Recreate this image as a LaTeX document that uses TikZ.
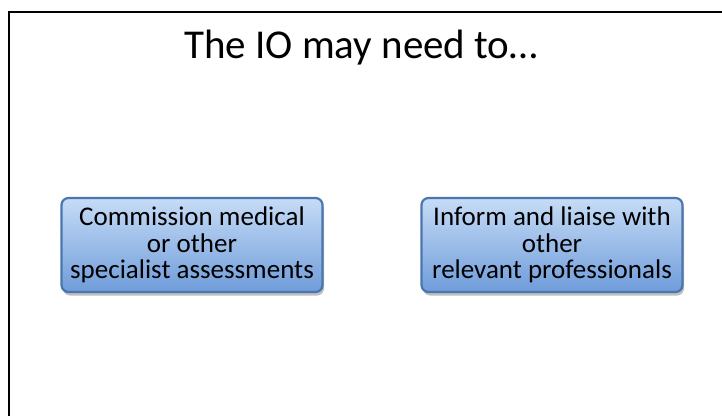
\documentclass[tikz,border=0pt]{standalone}
\usepackage{fontspec}
\setmainfont{Carlito}
\usetikzlibrary{shadows}
\definecolor{boxtop}{HTML}{C6DCF6}
\definecolor{boxbot}{HTML}{6F9CDA}
\definecolor{boxedge}{HTML}{4A76B0}
\tikzset{
  x=1pt, y=-1pt,
  taskbox/.style={rounded corners=7pt, draw=boxedge, line width=2.2pt,
    top color=boxtop, bottom color=boxbot, minimum width=261pt, minimum height=94pt,
    align=center, font=\fontsize{27}{26.5}\selectfont, inner sep=1pt,
    drop shadow={shadow xshift=1.5pt, shadow yshift=-3.5pt, fill=black!50, opacity=0.5}},
  title/.style={font=\fontsize{41}{44}\selectfont, inner sep=0pt}
}
\begin{document}
\begin{tikzpicture}
\useasboundingbox (0,0) rectangle (722,415);
\fill[white] (0,0) rectangle (722,415);
\coordinate (fb) at (9,416);
\coordinate (fc) at (9,12);
\coordinate (fr) at (723,12);
\draw[line width=2pt] (fb) -- (fc) -- (fr);
\node[title, anchor=base] (t) at (361,58) {The IO may need to…};
\node[taskbox] (a) at (192,245) {Commission medical\\or other\\specialist assessments};
\node[taskbox] (b) at (552,245) {Inform and liaise with\\other\\relevant professionals};
\end{tikzpicture}
\end{document}
